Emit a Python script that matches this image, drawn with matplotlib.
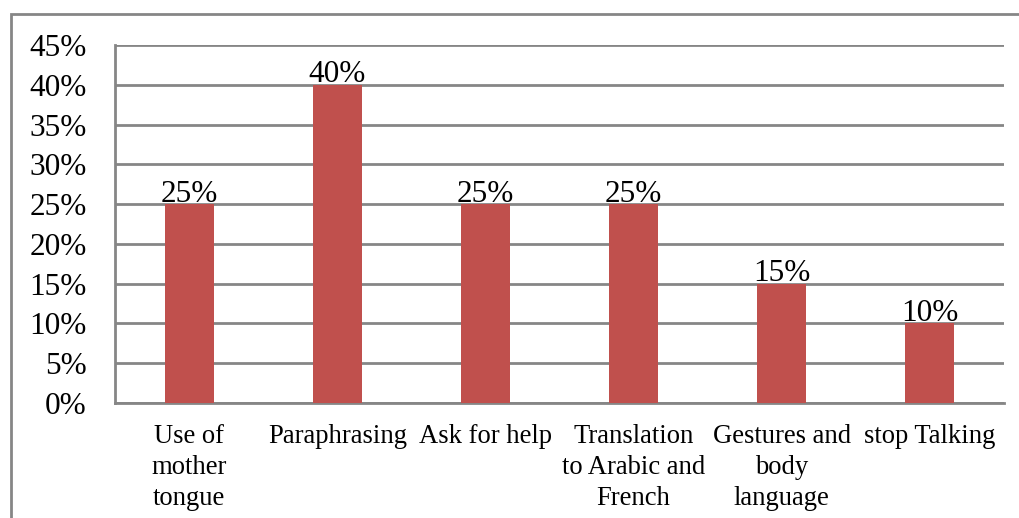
import matplotlib.pyplot as plt
from matplotlib.patches import Rectangle

categories = [
    "Use of\nmother\ntongue",
    "Paraphrasing",
    "Ask for help",
    "Translation\nto Arabic and\nFrench",
    "Gestures and\nbody\nlanguage",
    "stop Talking",
]
values = [25, 40, 25, 25, 15, 10]
y_ticks = [0, 5, 10, 15, 20, 25, 30, 35, 40, 45]

plt.rcParams["font.family"] = ["Liberation Serif", "DejaVu Serif"]

W, H = 1020, 518
fig = plt.figure(figsize=(W / 100, H / 100), dpi=100)
ax = fig.add_axes([115 / W, 1 - 403 / H, (1004 - 115) / W, (403 - 45) / H])

x = range(len(categories))
bars = ax.bar(x, values, width=0.33, color="#C0504D", zorder=3)

for b, v in zip(bars, values):
    ax.text(b.get_x() + b.get_width() / 2, v + 0.3, f"{v}%",
            ha="center", va="baseline", fontsize=22.5, color="black", zorder=4)

ax.set_xlim(-0.5, len(categories) - 0.5)
ax.set_ylim(0, 45)
ax.set_yticks(y_ticks)
ax.set_yticklabels([f"{t}%" for t in y_ticks], fontsize=22.5)
ax.set_xticks(list(x))
ax.set_xticklabels(categories, fontsize=19.2, linespacing=1.32)
ax.tick_params(axis="both", length=0, colors="black")
ax.tick_params(axis="y", pad=20.5)
ax.tick_params(axis="x", pad=15)

ax.grid(axis="y", color="#868686", linewidth=2, zorder=1)
for side in ["top", "right"]:
    ax.spines[side].set_visible(False)
for side in ["left", "bottom"]:
    ax.spines[side].set_color("#868686")
    ax.spines[side].set_linewidth(2)

# outer chart frame, running off the right and bottom edges
fig.patches.append(Rectangle((11 / W, -0.1), 1.2, 1 - 14 / H + 0.1,
                             transform=fig.transFigure, fill=False,
                             edgecolor="#868686", linewidth=2))

fig.savefig("out.png", dpi=100)
